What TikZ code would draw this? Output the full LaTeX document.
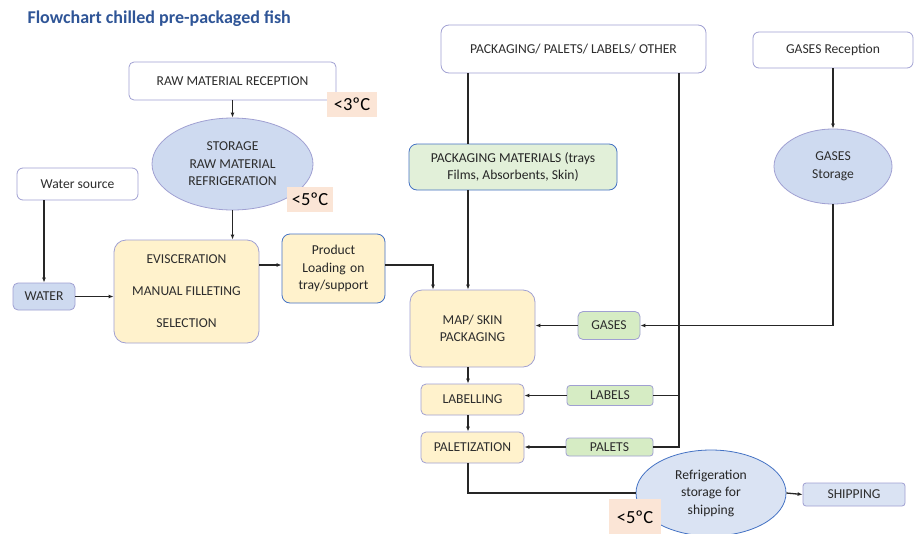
\documentclass[tikz,border=0pt]{standalone}
\usepackage{fontspec}
\setmainfont{Carlito}
\usetikzlibrary{arrows.meta,shapes.geometric}

\definecolor{titleblue}{RGB}{47,85,151}
\definecolor{lavline}{RGB}{160,160,210}
\definecolor{wordblue}{RGB}{68,114,196}
\definecolor{boxtext}{RGB}{45,45,45}
\definecolor{yelfill}{RGB}{255,242,204}
\definecolor{grnfill}{RGB}{226,240,217}
\definecolor{grnimg}{RGB}{214,236,196}
\definecolor{bluefill}{RGB}{206,218,240}
\definecolor{bluelite}{RGB}{218,227,243}
\definecolor{tempfill}{RGB}{251,229,214}

\begin{document}
\begin{tikzpicture}[
  x=1pt,
  y=-1pt,
  >={Latex[length=5pt,width=4pt]},
  imgbox/.style={draw=lavline, line width=0.8pt, rounded corners=5pt, inner sep=2pt, align=center, text=boxtext, font=\fontsize{13.6}{17}\selectfont},
  wordbox/.style={draw=wordblue, line width=0.8pt, rounded corners=8pt, inner sep=2pt, align=center, text=black!85, font=\fontsize{13.6}{17.5}\selectfont},
  oval/.style={draw=lavline, line width=0.8pt, ellipse, fill=bluefill, inner sep=0pt, align=center, text=boxtext, font=\fontsize{13.6}{17.5}\selectfont},
  temp/.style={fill=tempfill, inner sep=0pt, font=\fontsize{18.5}{20}\selectfont},
  link/.style={line width=1.3pt, black!85},
  arr/.style={link, ->}
]
  \fill[white] (0,0) rectangle (917,533);
  \useasboundingbox (0,0) rectangle (917,533);
  \clip (0,0) rectangle (917,533);

  \node[anchor=west, text=titleblue, font=\fontsize{18}{21}\selectfont\bfseries] (title) at (24,19) {Flowchart chilled pre-packaged fish};

  % left column
  \node[imgbox, minimum width=207, minimum height=38] (raw) at (232.5,81) {RAW MATERIAL RECEPTION};
  \node[temp, minimum width=50, minimum height=25] (t3) at (352,104.5) {<3ºC};
  \node[oval, minimum width=161, minimum height=92] (stor) at (232.5,164) {STORAGE\\RAW MATERIAL\\REFRIGERATION};
  \node[temp, minimum width=46, minimum height=25] (t5a) at (310,199.5) {<5ºC};
  \node[imgbox, minimum width=121, minimum height=32, rounded corners=6pt] (wsrc) at (77.5,184) {Water source};
  \node[imgbox, fill=bluefill, minimum width=62, minimum height=27] (water) at (44,296.5) {WATER};
  \node[imgbox, fill=yelfill, rounded corners=12pt, minimum width=145, minimum height=103] (evis) at (186.5,291.5) {EVISCERATION\\[15pt]MANUAL FILLETING\\[15pt]SELECTION};
  \node[wordbox, fill=yelfill, minimum width=103, minimum height=69, text width=95] (load) at (333.5,268.5) {Product\\Loading on\\tray/support};

  % supplies
  \node[imgbox, rounded corners=8pt, minimum width=265, minimum height=48] (pack) at (573.5,49) {PACKAGING/ PALETS/ LABELS/ OTHER};
  \node[imgbox, rounded corners=6pt, minimum width=160, minimum height=36] (gasr) at (833,50) {GASES Reception};
  \node[wordbox, fill=grnfill, minimum width=208, minimum height=46] (pmat) at (513,167) {PACKAGING MATERIALS (trays\\Films, Absorbents, Skin)};
  \node[oval, minimum width=118, minimum height=75] (gass) at (833,166.5) {GASES\\Storage};

  % packaging line
  \node[imgbox, fill=yelfill, rounded corners=12pt, minimum width=125, minimum height=77] (map) at (472.5,328.5) {MAP/ SKIN\\PACKAGING};
  \node[imgbox, fill=grnimg, minimum width=62, minimum height=28] (gas) at (609,325.5) {GASES};
  \node[imgbox, fill=yelfill, minimum width=103, minimum height=31] (lab) at (472.5,399.5) {LABELLING};
  \node[imgbox, fill=grnimg, minimum width=86, minimum height=20, rounded corners=3pt] (labs) at (610,395.5) {LABELS};
  \node[imgbox, fill=yelfill, minimum width=103, minimum height=31] (pal) at (472.5,447.5) {PALETIZATION};
  \node[imgbox, fill=grnimg, minimum width=87, minimum height=18, rounded corners=3pt] (pals) at (609.5,447) {PALETS};
  \node[oval, draw=wordblue, fill=bluelite, text=black!85, minimum width=150, minimum height=86] (refr) at (711,493) {Refrigeration\\storage for\\shipping};
  \node[imgbox, fill=bluelite, rounded corners=3pt, minimum width=102, minimum height=23] (ship) at (854,494.5) {SHIPPING};
  \node[temp, minimum width=52, minimum height=36] (t5b) at (635,517) {<5ºC};

  \coordinate (px) at (468,0);
  \coordinate (lx) at (433,0);
  \coordinate (rx) at (679,0);

  \draw[arr] (raw.south) -- (stor.north);
  \draw[arr] (stor.south) -- (stor.south |- evis.north);
  \draw[arr] (wsrc.south -| water.north) -- (water.north);
  \draw[arr] (water.east) -- (water.east -| evis.west);
  \draw[arr] (evis.east |- 0,265) -- (load.west |- 0,265);
  \draw[arr] (load.east |- 0,265) -| (map.north -| lx);

  \draw[link] (pack.south -| px) -- (pmat.north -| px);
  \draw[arr] (pmat.south -| px) -- (map.north -| px);
  \draw[link] (pack.south -| rx) |- (pals.east);
  \draw[link] (labs.east) -- (labs.east -| rx);

  \draw[arr] (gasr.south) -- (gass.north);
  \draw[arr] (gass.south) |- (gas.east);
  \draw[arr] (gas.west) -- (gas.west -| map.east);
  \draw[arr] (labs.west) -- (labs.west -| lab.east);
  \draw[arr] (pals.west) -- (pals.west -| pal.east);

  \draw[arr] (map.south -| px) -- (lab.north -| px);
  \draw[arr] (lab.south -| px) -- (pal.north -| px);
  \draw[link] (pal.south -| px) |- (refr.west);
  \draw[arr] (refr.east) -- (ship.west);
\end{tikzpicture}
\end{document}
